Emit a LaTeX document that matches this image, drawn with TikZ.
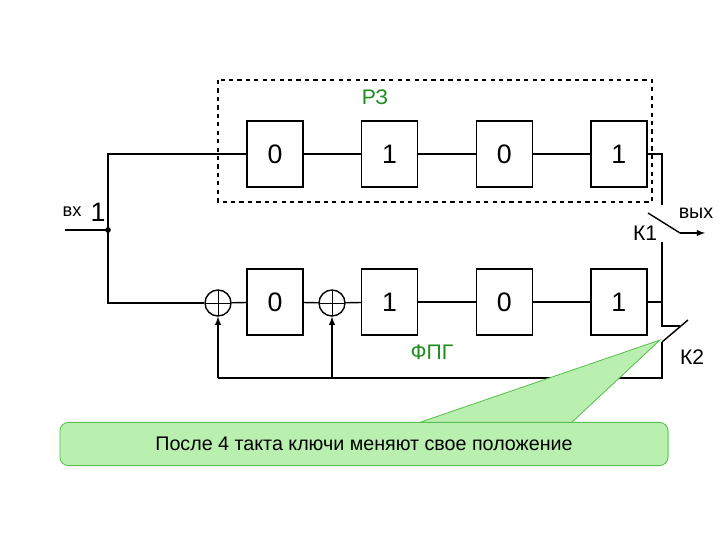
\documentclass[tikz,border=0pt]{standalone}
\usepackage{fontspec}
\setmainfont{Liberation Sans}
\usetikzlibrary{positioning}
\definecolor{lblgreen}{RGB}{30,140,30}
\definecolor{notefill}{RGB}{185,240,175}
\definecolor{noteline}{RGB}{90,190,80}
\begin{document}
\begin{tikzpicture}[
                            x=0.025cm, y=-0.025cm,
                            node distance=1.4cm,
                            >=latex,
                            line width=1pt,
                            reg/.style={rectangle, draw, minimum width=1.4cm, minimum height=1.65cm, font=\fontsize{19}{19}\selectfont},
                            sum/.style={circle, draw, minimum size=0.65cm, inner sep=0pt,
                                path picture={\draw[line width=0.6pt] (path picture bounding box.north) -- (path picture bounding box.south)
                                (path picture bounding box.west) -- (path picture bounding box.east);}},
                            lbl/.style={font=\fontsize{15}{15}\selectfont}
                        ]
                        \useasboundingbox (0,0) rectangle (720,540);
                        % Register
                        \draw [dashed] (218,80) rectangle (652,202);
                        \node [lbl, text=lblgreen] (rz) at (375,97) {РЗ};
                        \node [reg] (t1) at (275,154) {0};
                        \node [reg, right=1.43cm of t1] (t2) {1};
                        \node [reg, right=1.43cm of t2] (t3) {0};
                        \node [reg, right=1.43cm of t3] (t4) {1};
                        % Generator
                        \node [sum] (s1) at (218,303) {};
                        \node [reg] (b1) at (275,302) {0};
                        \node [sum] (s2) at (332,303) {};
                        \node [reg, right=1.43cm of b1] (b2) {1};
                        \node [reg, right=1.43cm of b2] (b3) {0};
                        \node [reg, right=1.43cm of b3] (b4) {1};
                        \node [lbl, text=lblgreen] (fpg) at (432,352) {ФПГ};
                        % Input
                        \coordinate (in) at (65,230);
                        \coordinate (fork) at (108,230);
                        \fill (fork) circle (2pt);
                        \node [font=\fontsize{13}{13}\selectfont] (vx) at (72,212) {вх};
                        \node [font=\fontsize{19}{19}\selectfont] (one) at (98,212) {1};
                        % Switches
                        \coordinate (k1a) at (662,205);
                        \coordinate (k1b) at (662,242);
                        \coordinate (k2a) at (662,326);
                        \coordinate (k2b) at (662,342);
                        \coordinate (fb) at (662,378);
                        \coordinate (out) at (705,233);
                        \node [font=\fontsize{14}{14}\selectfont] (vyx) at (696,213) {вых};
                        \node [lbl] (k1) at (645,233) {К1};
                        \node [lbl] (k2) at (692,357) {К2};

                        % Connections
                        \draw (in) -- (fork);
                        \draw (fork) |- (t1.west);
                        \draw (fork) |- (s1.west);
                        \draw (t1) -- (t2); \draw (t2) -- (t3); \draw (t3) -- (t4);
                        \draw (s1) -- (b1); \draw (b1) -- (s2); \draw (s2) -- (b2);
                        \draw (b2) -- (b3); \draw (b3) -- (b4);
                        \draw (t4.east) -| (k1a);
                        \draw (648,213) -- (680,233);
                        \draw [->] (680,233) -- (out);
                        \draw (k1b) -- (k2a) -- (680,326);
                        \draw (b4.east) -- (b4.east -| k1b);
                        \draw (k2b) -- (688,320);
                        \draw (k2b) -- (fb) -- (218,378);
                        \draw [->] (218,378) -- (s1.south);
                        \draw [->] (s2.south |- fb) -- (s2.south);
                        % Note
                        \fill[notefill] (415,424) -- (660,340) -- (570,424) -- cycle;
                        \draw[noteline, line width=0.6pt] (415,424) -- (660,340) -- (570,424);
                        \node [draw=noteline, fill=notefill, line width=0.6pt, rounded corners=6pt, minimum width=15.2cm, minimum height=1.08cm, font=\fontsize{14}{14}\selectfont] (note) at (364,444) {После 4 такта ключи меняют свое положение};
\end{tikzpicture}
\end{document}
